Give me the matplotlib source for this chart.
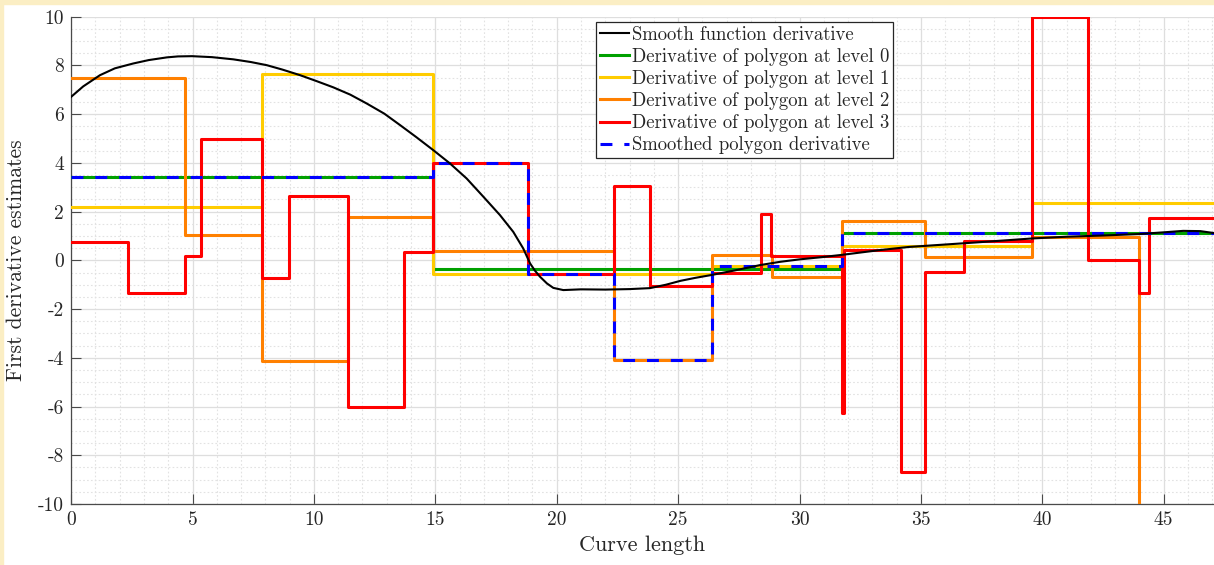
import matplotlib
matplotlib.use('Agg')
import matplotlib.pyplot as plt
from matplotlib.patches import Rectangle
from matplotlib.ticker import MultipleLocator, FuncFormatter

plt.rcParams['font.family'] = 'serif'
plt.rcParams['font.serif'] = ['cmr10', 'DejaVu Serif']
plt.rcParams['axes.unicode_minus'] = False

# smooth derivative curve
smooth_x = [0, 0.5, 1.19, 1.8, 2.56, 3.2, 3.94, 4.4, 4.98, 5.8, 6.68, 7.4, 8.06, 8.7,
            9.43, 10.1, 10.8, 11.5, 12.17, 12.9, 13.55, 14.2, 14.92,
            15.6, 16.29, 16.98, 17.66, 18.21, 18.62, 18.9, 19.1, 19.31, 19.6, 19.86,
            20.27, 21.0, 22.0, 23.0, 23.84, 24.5, 25.1, 25.7, 26.38, 27.3, 28.4, 29.2,
            30.0, 30.9, 31.7, 32.5, 33.3, 34.5, 35.7, 36.9, 38.2, 39.6, 41.0, 42.5,
            44.0, 45.0, 45.8, 46.5, 47.07]
smooth_y = [6.71, 7.14, 7.60, 7.88, 8.08, 8.22, 8.33, 8.37, 8.38, 8.34, 8.25, 8.14,
            8.01, 7.83, 7.60, 7.36, 7.10, 6.80, 6.44, 6.02, 5.55, 5.07, 4.52,
            3.98, 3.36, 2.61, 1.86, 1.17, 0.49, -0.12, -0.42, -0.67, -0.95, -1.13,
            -1.22, -1.19, -1.20, -1.18, -1.14, -1.0, -0.84, -0.72, -0.6, -0.42, -0.19,
            -0.06, 0.04, 0.13, 0.22, 0.32, 0.42, 0.55, 0.63, 0.71, 0.80, 0.90, 0.97,
            1.02, 1.08, 1.15, 1.21, 1.20, 1.12]

x_end = 47.07

lvl0_edges = [0, 14.92, 31.74, x_end]
lvl0_vals = [3.41, -0.37, 1.11]

lvl1_edges = [0, 7.86, 14.92, 26.38, 31.74, 39.59, x_end]
lvl1_vals = [2.21, 7.64, -0.56, -0.24, 0.57, 2.34]

lvl2_edges = [0, 4.69, 7.86, 11.42, 14.92, 22.37, 26.38, 28.85, 31.74, 35.17,
              39.59, 43.98, x_end]
lvl2_vals = [7.47, 1.05, -4.12, 1.76, 0.39, -4.09, 0.2, -0.68, 1.61, 0.13, 0.94, -14.0]

lvl3_edges = [0, 2.33, 4.69, 5.35, 7.86, 8.96, 11.42, 13.72, 14.92, 18.83, 22.37,
              23.84, 26.38, 28.41, 28.83, 31.74, 31.83, 34.18, 35.17, 36.79, 39.59,
              41.89, 43.98, 44.41, x_end]
lvl3_vals = [0.74, -1.35, 0.18, 4.97, -0.72, 2.65, -6.0, 0.35, 3.98, -0.56, 3.05,
             -1.05, -0.53, 1.89, 0.19, -6.25, 0.42, -8.67, -0.47, 0.8, 9.97, 0.01,
             -1.35, 1.72]

smoothed_edges = [0, 14.92, 18.83, 22.37, 26.38, 31.74, x_end]
smoothed_vals = [3.41, 3.98, -0.56, -4.09, -0.24, 1.11]

labels = ['Smooth function derivative',
          'Derivative of polygon at level 0',
          'Derivative of polygon at level 1',
          'Derivative of polygon at level 2',
          'Derivative of polygon at level 3',
          'Smoothed polygon derivative']
colors = ['#000000', '#00a000', '#ffcc00', '#ff8000', '#ff0000', '#0000ff']

ink = '#262626'

fig = plt.figure(figsize=(12.14, 5.65), dpi=100)
# thin pale frame visible on the top and left of the screenshot
fig.patches.append(Rectangle((0, 1 - 3.5 / 565), 1, 3.5 / 565, transform=fig.transFigure,
                             color='#fbeec4', zorder=0))
fig.patches.append(Rectangle((0, 0), 2.5 / 1214, 1, transform=fig.transFigure,
                             color='#fbeec4', zorder=0))

ax = fig.add_axes([71.1 / 1214, 61 / 565, 1 - 71.1 / 1214, 487.3 / 565])

lw = 2.2
h_smooth, = ax.plot(smooth_x, smooth_y, color=colors[0], lw=1.5, zorder=8,
                    solid_joinstyle='round')


def stairs(edges, vals, **kw):
    return ax.step(edges, vals + [vals[-1]], where='post', lw=lw,
                   solid_joinstyle='round', dash_joinstyle='round', **kw)[0]


h0 = stairs(lvl0_edges, lvl0_vals, color=colors[1], zorder=3)
h1 = stairs(lvl1_edges, lvl1_vals, color=colors[2], zorder=4)
h2 = stairs(lvl2_edges, lvl2_vals, color=colors[3], zorder=5)
h3 = stairs(lvl3_edges, lvl3_vals, color=colors[4], zorder=6)
h4 = stairs(smoothed_edges, smoothed_vals, color=colors[5], zorder=7,
            linestyle=(0, (3.9, 3.9)))

ax.set_xlim(0, x_end)
ax.set_ylim(-10, 10)
ax.xaxis.set_major_locator(MultipleLocator(5))
ax.xaxis.set_minor_locator(MultipleLocator(1))
ax.yaxis.set_major_locator(MultipleLocator(2))
ax.yaxis.set_minor_locator(MultipleLocator(0.5))
fmt = FuncFormatter(lambda v, p: f'{v:g}')
ax.xaxis.set_major_formatter(fmt)
ax.yaxis.set_major_formatter(fmt)

ax.grid(True, which='major', color='#dedede', lw=0.9, zorder=0)
ax.grid(True, which='minor', color='#e2e2e2', lw=0.8, linestyle=(0, (1.5, 2)), zorder=0)
ax.set_axisbelow(True)

for side in ['top', 'right']:
    ax.spines[side].set_visible(False)
for side in ['left', 'bottom']:
    ax.spines[side].set_color('#4a4a4a')
    ax.spines[side].set_linewidth(0.9)
ax.tick_params(which='major', direction='in', length=7, width=0.8, color='#4a4a4a',
               labelsize=14, labelcolor=ink, pad=5)
ax.tick_params(which='minor', length=0)

ax.set_xlabel('Curve length', fontsize=16, color=ink)
ax.set_ylabel('First derivative estimates', fontsize=15.5, color=ink)
ax.xaxis.set_label_coords(0.5, -0.064)
ax.yaxis.set_label_coords(-0.0395, 0.5)

leg = ax.legend([h_smooth, h0, h1, h2, h3, h4], labels, loc='upper left',
                bbox_to_anchor=(596 / 1214, 1 - 22 / 565), bbox_transform=fig.transFigure,
                fontsize=13.5, frameon=True, fancybox=False, framealpha=1,
                edgecolor=ink, borderpad=0.2, borderaxespad=0, handlelength=1.55,
                handletextpad=0.15, labelspacing=0.22)
leg.get_frame().set_linewidth(0.9)
for t in leg.get_texts():
    t.set_color(ink)

fig.savefig('out.png', dpi=100)
